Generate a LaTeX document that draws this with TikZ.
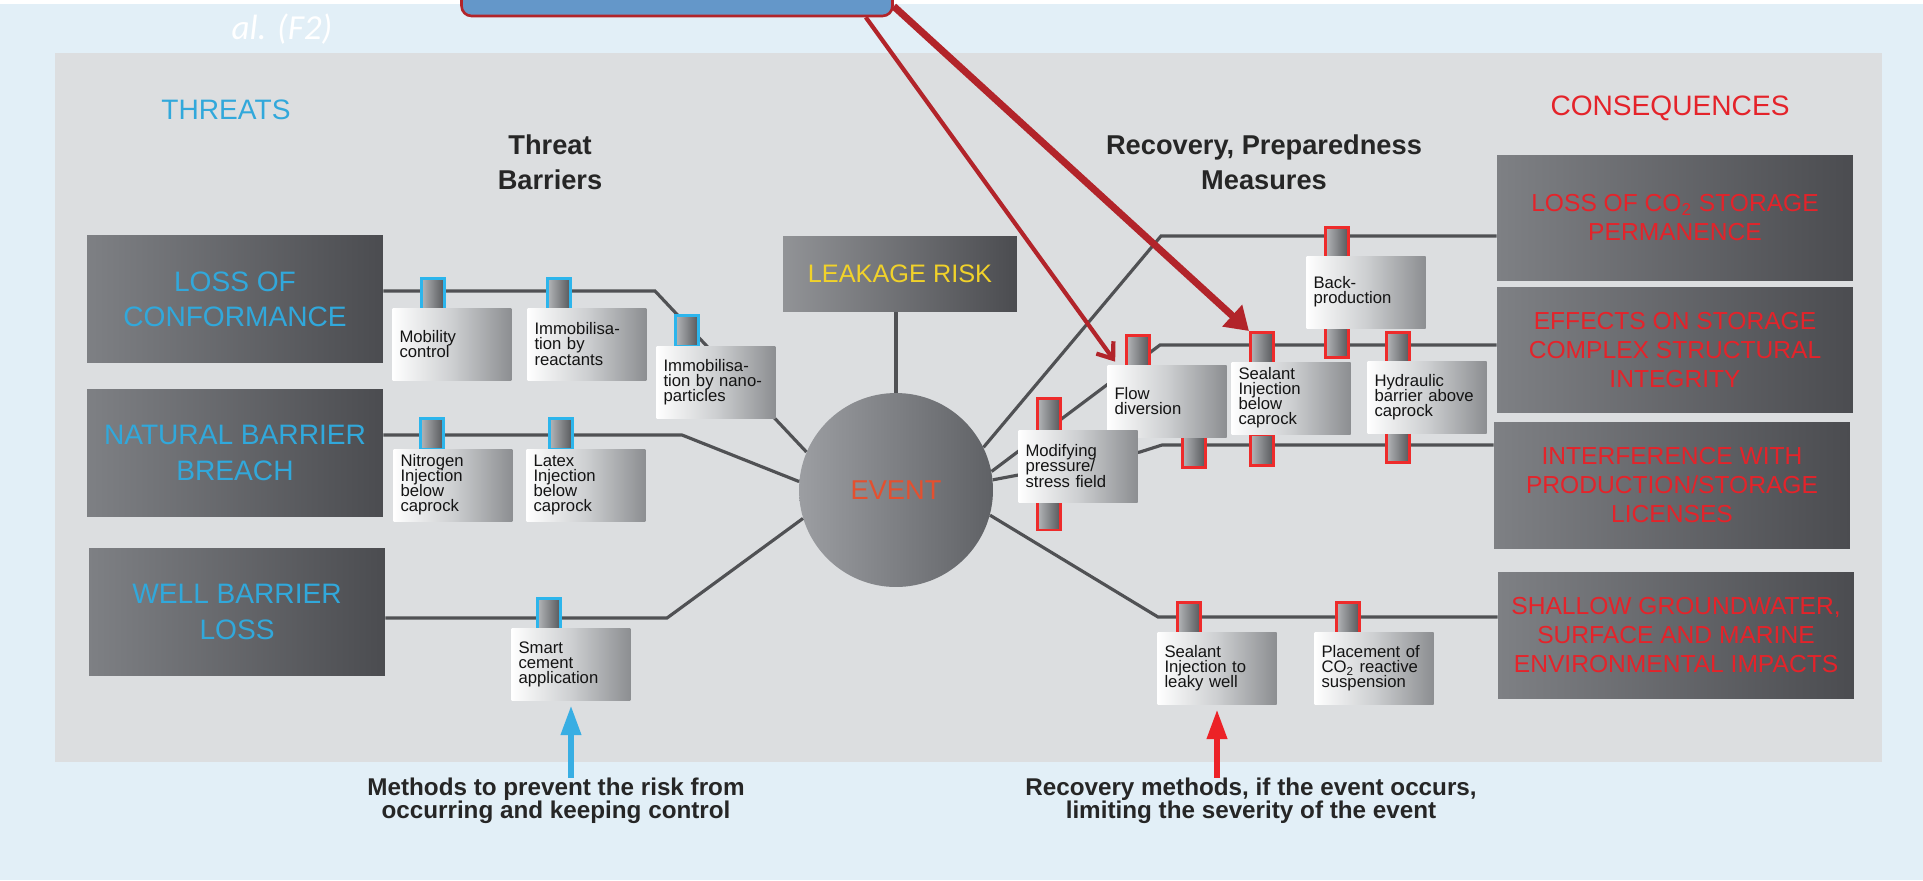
\documentclass[tikz,border=0pt]{standalone}
\usepackage{fontspec}
\setmainfont{Liberation Sans}
\newfontfamily\callfamily{Carlito}
\usepackage{xcolor}
\usepackage{tikz}
\usetikzlibrary{arrows.meta}

\definecolor{bgblue}{HTML}{E2EFF7}
\definecolor{panelgray}{HTML}{DCDEE0}
\definecolor{darkboxL}{HTML}{7E8084}
\definecolor{darkboxR}{HTML}{4B4C50}
\definecolor{eventL}{HTML}{9C9EA2}
\definecolor{eventR}{HTML}{5F6165}
\definecolor{measR}{HTML}{8C8E91}
\definecolor{measM}{HTML}{CDCFD1}
\definecolor{cylL}{HTML}{B4B6B9}
\definecolor{cylR}{HTML}{55575A}
\definecolor{wiregray}{HTML}{505154}
\definecolor{threatcyan}{HTML}{31A8DB}
\definecolor{guardcyan}{HTML}{2CB5EC}
\definecolor{consred}{HTML}{E4232A}
\definecolor{guardred}{HTML}{EE2B2B}
\definecolor{eventred}{HTML}{E4502F}
\definecolor{leakyellow}{HTML}{F1D22A}
\definecolor{pointred}{HTML}{B2242A}
\definecolor{calloutblue}{HTML}{6497C9}
\definecolor{upcyan}{HTML}{38AEE3}
\definecolor{upred}{HTML}{EC2227}

\newcommand{\threatsize}{\fontsize{16}{20}\selectfont}
\newcommand{\conssize}{\fontsize{14}{16.5}\selectfont}
\newcommand{\meassize}{\fontsize{9.5}{8.6}\selectfont\lineskiplimit=-5pt\relax}
\newcommand{\headsize}{\fontsize{15.5}{20}\selectfont\bfseries}
\newcommand{\captsize}{\fontsize{13.8}{13.2}\selectfont\bfseries}

\begin{document}
\begin{tikzpicture}[
    x=0.02cm,
    y=-0.02cm,
    wire/.style={
        draw=wiregray,
        line width=1.8pt
    },
    threatbox/.style={
        left color=darkboxL, right color=darkboxR,
        minimum width=5.92cm, minimum height=2.54cm,
        inner sep=2pt, align=center,
        text=threatcyan, font=\threatsize
    },
    consbox/.style={
        left color=darkboxL, right color=darkboxR,
        minimum width=7.12cm, minimum height=2.52cm,
        inner sep=2pt, align=center,
        text=consred, font=\conssize
    },
    measbox/.style={
        left color=white, right color=measR, middle color=measM,
        minimum width=2.38cm, minimum height=1.44cm,
        text width=2.1cm, inner sep=0pt, align=left,
        text=black!92, font=\meassize
    },
    guard/.style={
        draw=#1, line width=1.7pt,
        left color=cylL, right color=cylR,
        minimum width=0.46cm, minimum height=0.62cm,
        inner sep=0pt
    },
    heading/.style={
        align=center, text=black!85, font=\headsize
    },
    caption/.style={
        align=center, text=black!85, font=\captsize, inner sep=0pt
    },
    pointer/.style={
        draw=pointred, line width=2.4pt,
        -{Straight Barb[length=8pt,width=12pt]}
    },
    bigpointer/.style={
        draw=pointred, line width=4pt,
        -{Triangle[length=13pt,width=16pt]}
    },
    uparrow/.style={
        draw=#1, line width=3.5pt,
        -{Triangle[length=17pt,width=11pt]}
    }
]

\useasboundingbox (0,0) rectangle (1923,880);
\fill[bgblue] (0,4) rectangle (1923,880);
\fill[panelgray] (55,53) rectangle (1882,762);


\node[text=white, font=\callfamily\itshape\fontsize{20}{24}\selectfont] (alref) at (282,29) {al. (F2)};

\node[draw=pointred, line width=1.5pt, fill=calloutblue, rounded corners=0.2cm,
      minimum width=8.62cm, minimum height=1.2cm] (note) at (677,-14) {};


\node[text=threatcyan, font=\threatsize] (threats) at (226,110) {THREATS};
\node[text=consred, font=\threatsize] (consequences) at (1670,108) {CONSEQUENCES};
\node[heading] (tbtitle) at (550,162) {Threat\\Barriers};
\node[heading] (rptitle) at (1264,162) {Recovery, Preparedness\\Measures};


\node[threatbox] (loss) at (235,299) {LOSS OF\\CONFORMANCE};
\node[threatbox] (natural) at (235,453) {NATURAL BARRIER\\BREACH};
\node[threatbox] (well) at (237,612) {WELL BARRIER\\LOSS};

\node[consbox] (cons1) at (1675,218) {LOSS OF CO\textsubscript{2} STORAGE\\PERMANENCE};
\node[consbox] (cons2) at (1675,350) {EFFECTS ON STORAGE\\COMPLEX STRUCTURAL\\INTEGRITY};
\node[consbox] (cons3) at (1672,485) {INTERFERENCE WITH\\PRODUCTION/STORAGE\\LICENSES};
\node[consbox] (cons4) at (1676,635) {SHALLOW GROUNDWATER,\\SURFACE AND MARINE\\ENVIRONMENTAL IMPACTS};

\node[left color=darkboxL!85!white, right color=darkboxR, minimum width=4.68cm, minimum height=1.5cm,
      text=leakyellow, font=\fontsize{14.4}{17}\selectfont] (leak) at (900,274) {LEAKAGE RISK};

\node[circle, left color=eventL, right color=eventR, minimum size=3.88cm, inner sep=0pt,
      text=eventred, font=\fontsize{15.5}{18}\selectfont] (event) at (896,490) {EVENT};


\coordinate (t1) at (655,291);
\coordinate (t2) at (682,435);
\coordinate (t3) at (667,618);
\coordinate (r1bend) at (1161,236);
\coordinate (r2bend) at (1160,345);
\coordinate (r3kink) at (1140,452);
\coordinate (r3bend) at (1162,445);
\coordinate (r4bend) at (1158,617);

\draw[wire] (t1 -| loss.east) -- (t1) -- (event.157);
\draw[wire] (t2 -| natural.east) -- (t2) -- (event.175);
\draw[wire] (t3 -| well.east) -- (t3) -- (event.197);
\draw[wire] (event.north) -- (event.north |- leak.south);
\draw[wire] (event.26) -- (r1bend) -- (r1bend -| cons1.west);
\draw[wire] (event.11) -- (r2bend) -- (r2bend -| cons2.west);
\draw[wire] (event.6) -- (r3kink) -- (r3bend) -- (r3bend -| cons3.west);
\draw[wire] (event.-15) -- (r4bend) -- (r4bend -| cons4.west);


\node[guard=guardcyan] (b1) at (433,294) {};
\node[guard=guardcyan] (b2) at (559,294) {};
\node[guard=guardcyan] (b3) at (687,331) {};
\node[guard=guardcyan] (b4) at (432,434) {};
\node[guard=guardcyan] (b5) at (561,434) {};
\node[guard=guardcyan] (b6) at (549,614) {};

\node[guard=guardred, minimum height=2.64cm] (r1) at (1049,464) {};
\node[guard=guardred] (r2) at (1138,351) {};
\node[guard=guardred] (r3) at (1194,452) {};
\node[guard=guardred] (r4) at (1262,348) {};
\node[guard=guardred] (r5) at (1262,450) {};
\node[guard=guardred] (r6) at (1337,243) {};
\node[guard=guardred] (r7) at (1337,342) {};
\node[guard=guardred] (r8) at (1398,348) {};
\node[guard=guardred] (r9) at (1398,447) {};
\node[guard=guardred] (r10) at (1189,618) {};
\node[guard=guardred] (r11) at (1348,618) {};


\node[measbox] (mobility) at (452,344) {Mobility\\control};
\node[measbox] (reactants) at (587,344) {Immobilisa-\\tion by\\reactants};
\node[measbox] (nano) at (716,382) {Immobilisa-\\tion by nano-\\particles};
\node[measbox] (nitrogen) at (453,485) {Nitrogen\\Injection\\below\\caprock};
\node[measbox] (latex) at (586,485) {Latex\\Injection\\below\\caprock};
\node[measbox] (smart) at (571,664) {Smart\\cement\\application};

\node[measbox] (flow) at (1167,401) {Flow\\diversion};
\node[measbox] (modify) at (1078,466) {Modifying\\pressure/\\stress field};
\node[measbox] (sealbelow) at (1291,398) {Sealant\\Injection\\below\\caprock};
\node[measbox] (back) at (1366,292) {Back-\\production};
\node[measbox] (hydraulic) at (1427,397) {Hydraulic\\barrier above\\caprock};
\node[measbox] (leaky) at (1217,668) {Sealant\\Injection to\\leaky well};
\node[measbox] (placement) at (1374,668) {Placement of\\CO\textsubscript{2} reactive\\suspension};


\node[caption] (capL) at (556,801) {Methods to prevent the risk from\\occurring and keeping control};
\node[caption] (capR) at (1251,801) {Recovery methods, if the event occurs,\\limiting the severity of the event};

\draw[uparrow=upcyan] (smart.south |- capL.north) -- ([yshift=-0.1cm]smart.south);
\draw[uparrow=upred] (leaky.south |- capR.north) -- ([yshift=-0.1cm]leaky.south);


\draw[pointer] ([xshift=-0.56cm]note.south east) -- ([shift={(8,-3)}]flow.north west);
\draw[bigpointer] ([yshift=0.22cm]note.south east) -- (r4.north west);

\end{tikzpicture}
\end{document}
